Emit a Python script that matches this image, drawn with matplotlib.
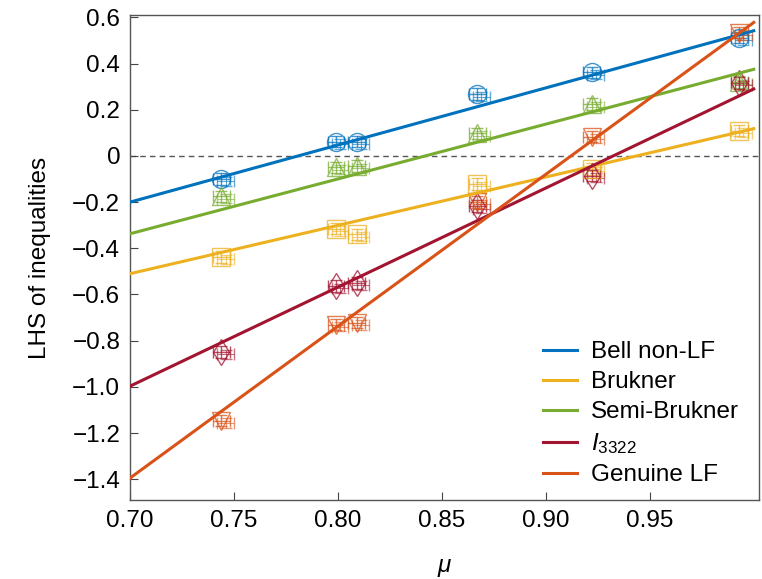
import matplotlib
matplotlib.use("Agg")
import matplotlib.pyplot as plt
import numpy as np

plt.rcParams['font.family'] = ['Liberation Sans', 'DejaVu Sans']
plt.rcParams['mathtext.fontset'] = 'custom'
plt.rcParams['mathtext.it'] = 'Liberation Sans:italic'
plt.rcParams['mathtext.rm'] = 'Liberation Sans'

# measured mu values
mu = [0.744, 0.799, 0.809, 0.867, 0.922, 0.993]

bell = [-0.10, 0.062, 0.062, 0.267, 0.362, 0.512]
brukner = [-0.437, -0.315, -0.34, -0.122, -0.057, 0.11]
semi = [-0.175, -0.05, -0.044, 0.098, 0.224, 0.32]
i3322 = [-0.849, -0.564, -0.551, -0.218, -0.085, 0.315]
genuine = [-1.146, -0.73, -0.722, -0.2, 0.084, 0.534]

# theory lines, values at mu = 0.70 and mu = 1.0
mu_line = [0.70, 1.0]
bell_line = [-0.20, 0.542]
brukner_line = [-0.51, 0.118]
semi_line = [-0.337, 0.375]
i3322_line = [-0.997, 0.290]
genuine_line = [-1.395, 0.578]

names = ['Bell non-LF', 'Brukner', 'Semi-Brukner', '$I_{3322}$', 'Genuine LF']
colors = ['#0072BD', '#EDB120', '#77AC30', '#A2142F', '#D95319']
markers = ['o', 's', '^', 'd', 'v']
points = [bell, brukner, semi, i3322, genuine]
lines = [bell_line, brukner_line, semi_line, i3322_line, genuine_line]

fig = plt.figure(figsize=(7.62, 5.79), dpi=100)
ax = fig.add_axes([0.1706, 0.1364, 0.8254, 0.8376])

ax.axhline(0, color='#555555', ls=(0, (4, 3)), lw=1.0, zorder=1)

handles = []
for name, c, m, pts, ln in zip(names, colors, markers, points, lines):
    h, = ax.plot(mu_line, ln, color=c, lw=2.2, label=name, zorder=3)
    handles.append(h)
    ax.errorbar(mu, pts, xerr=0.004, yerr=0.025, fmt=m, mfc='none', mec=c,
                ms=13, mew=1.0, ecolor=c, elinewidth=1.0, capsize=4,
                alpha=0.75, zorder=2)
    ax.errorbar(np.array(mu) + 0.002, np.array(pts) - 0.01, xerr=0.004, yerr=0.02,
                fmt='none', ecolor=c, elinewidth=0.8, capsize=4, alpha=0.6, zorder=2)

ax.set_xlim(0.70, 1.0025)
ax.set_ylim(-1.49, 0.61)
ax.set_xticks([0.70, 0.75, 0.80, 0.85, 0.90, 0.95])
ax.set_xticklabels(['0.70', '0.75', '0.80', '0.85', '0.90', '0.95'])
ax.set_yticks([0.6, 0.4, 0.2, 0, -0.2, -0.4, -0.6, -0.8, -1.0, -1.2, -1.4])
ax.set_yticklabels(['0.6', '0.4', '0.2', '0', '\u22120.2', '\u22120.4', '\u22120.6',
                    '\u22120.8', '\u22121.0', '\u22121.2', '\u22121.4'])
ax.tick_params(direction='in', length=6, width=0.8, labelsize=17.5, pad=7,
               color='#444444')
for s in ax.spines.values():
    s.set_color('#555555')
    s.set_linewidth(1.0)

ax.set_xlabel('$\\mu$', fontsize=17.5, labelpad=18)
ax.set_ylabel('LHS of inequalities', fontsize=17.5, labelpad=15)

ax.legend(handles=handles, loc='lower right', bbox_to_anchor=(0.983, 0.008),
          frameon=False, fontsize=17.5, handlelength=1.4, handletextpad=0.55,
          labelspacing=0.33, borderaxespad=0.0)

fig.savefig('out.png', dpi=100)
